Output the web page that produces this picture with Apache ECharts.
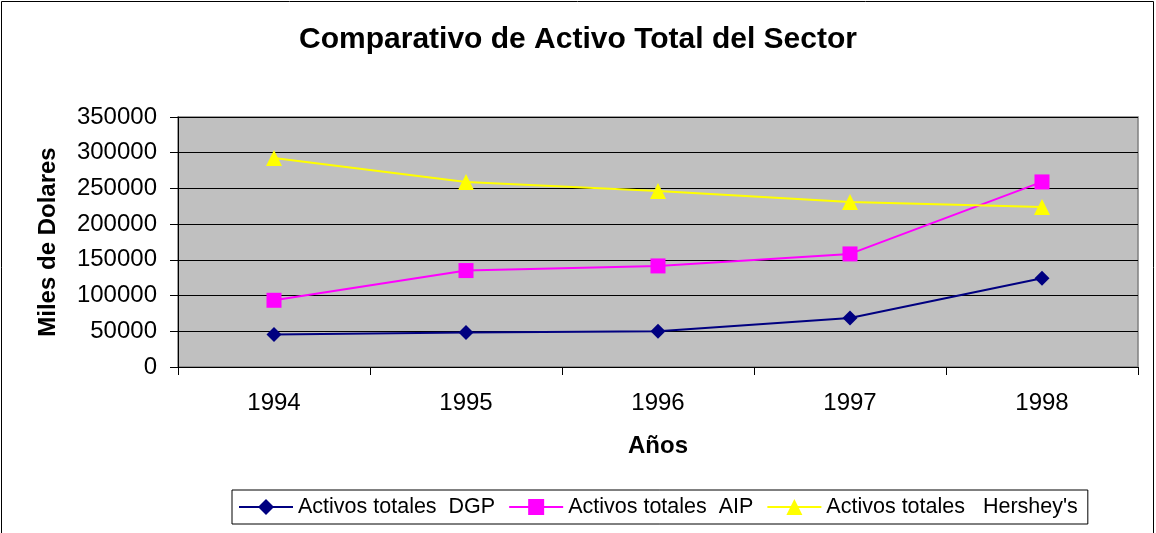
<!DOCTYPE html>
<html>
<head>
<meta charset="utf-8">
<script src="https://cdn.jsdelivr.net/npm/echarts@6/dist/echarts.min.js"></script>
<style>
html,body{margin:0;padding:0;background:#fff;}
#c{width:1156px;height:533px;}
</style>
</head>
<body>
<div id="c"></div>
<script>
const years = ['1994', '1995', '1996', '1997', '1998'];
const dgp = [45400, 48200, 50000, 68600, 124200];
const aip = [93400, 135000, 141500, 158300, 259100];
const hershey = [292600, 259100, 246300, 231100, 224000];
const seriesNames = ['Activos totales  DGP', 'Activos totales  AIP', 'Activos totales   Hershey\'s'];

const FONT = '"Liberation Sans", Arial, sans-serif';
const chart = echarts.init(document.getElementById('c'), null, {renderer: 'canvas'});
chart.setOption({
  backgroundColor: '#fff',
  animation: false,
  title: {
    text: 'Comparativo de Activo Total del Sector',
    left: 'center', top: 20,
    textStyle: {fontFamily: FONT, fontSize: 30, fontWeight: 'bold', color: '#000'}
  },
  graphic: [{
    type: 'rect', silent: true,
    shape: {x: 1.5, y: 1.5, width: 1152, height: 545},
    style: {fill: 'none', stroke: '#000', lineWidth: 1}
  }],
  legend: {
    left: 232, top: 490,
    padding: [6, 10, 6, 6],
    borderColor: '#000', borderWidth: 1,
    itemWidth: 54, itemHeight: 20, itemGap: 13,
    textStyle: {fontFamily: FONT, fontSize: 21.5, color: '#000'},
    data: seriesNames
  },
  grid: {
    left: 178, right: 18, top: 117, bottom: 166,
    show: true, backgroundColor: '#C0C0C0', borderColor: '#808080', borderWidth: 1.5
  },
  xAxis: {
    type: 'category', data: years, boundaryGap: true,
    name: 'Años', nameLocation: 'middle', nameGap: 67,
    nameTextStyle: {fontFamily: FONT, fontSize: 24, fontWeight: 'bold', color: '#000'},
    axisLine: {lineStyle: {color: '#000', width: 1}},
    axisTick: {show: true, length: 8, lineStyle: {color: '#000'}},
    axisLabel: {fontFamily: FONT, fontSize: 24, color: '#000', margin: 24}
  },
  yAxis: {
    type: 'value', min: 0, max: 350000, interval: 50000,
    name: 'Miles de Dolares', nameLocation: 'middle', nameGap: 118, nameRotate: 90,
    nameTextStyle: {fontFamily: FONT, fontSize: 24, fontWeight: 'bold', color: '#000'},
    axisLine: {show: true, lineStyle: {color: '#000', width: 1}},
    axisTick: {show: true, length: 8, lineStyle: {color: '#000'}},
    axisLabel: {fontFamily: FONT, fontSize: 24, color: '#000', margin: 21,
      formatter: function (v) { return String(v); }},
    splitLine: {show: true, lineStyle: {color: '#000', width: 1}}
  },
  series: [
    {name: seriesNames[0], type: 'line', data: dgp, symbol: 'diamond', symbolSize: 15,
     itemStyle: {color: '#000080'}, lineStyle: {color: '#000080', width: 2}},
    {name: seriesNames[1], type: 'line', data: aip, symbol: 'rect', symbolSize: 15,
     itemStyle: {color: '#FF00FF'}, lineStyle: {color: '#FF00FF', width: 2}},
    {name: seriesNames[2], type: 'line', data: hershey, symbol: 'triangle', symbolSize: 16,
     itemStyle: {color: '#FFFF00'}, lineStyle: {color: '#FFFF00', width: 2}}
  ]
});
</script>
</body>
</html>
